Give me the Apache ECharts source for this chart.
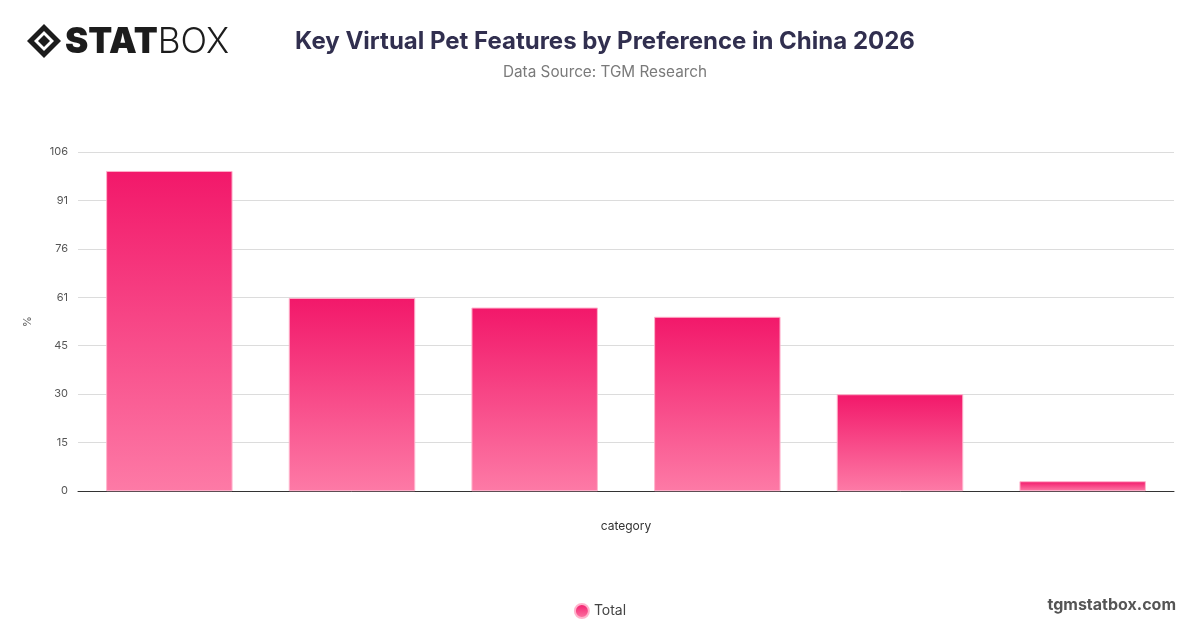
<!DOCTYPE html>
<html>
<head>
<meta charset="utf-8">
<script src="https://cdn.jsdelivr.net/npm/echarts@6/dist/echarts.min.js"></script>
<style>
html,body{margin:0;padding:0;background:#fff;}
#chart{width:1200px;height:628px;}
</style>
</head>
<body>
<div id="chart"></div>
<script>
const categories = ['Feature 1', 'Feature 2', 'Feature 3', 'Feature 4', 'Feature 5', 'Feature 6'];
const totalValues = [100, 60.3, 57.3, 54.4, 30.2, 3];
const seriesName = 'Total';
const yMax = 106;
const ySteps = 7;

const chart = echarts.init(document.getElementById('chart'));
const grad = new echarts.graphic.LinearGradient(0, 0, 0, 1, [
  { offset: 0, color: '#F2186A' },
  { offset: 1, color: '#FD7AA6' }
]);
chart.setOption({
  backgroundColor: '#ffffff',
  title: [
    {
      text: 'Key Virtual Pet Features by Preference in China 2026',
      left: 600, top: 25, textAlign: 'center',
      textStyle: { fontFamily: 'Inter', fontWeight: 'bold', fontSize: 24, color: '#312f4f' }
    },
    {
      text: 'Data Source: TGM Research',
      left: 600, top: 60, textAlign: 'center',
      textStyle: { fontFamily: 'Inter', fontWeight: 'normal', fontSize: 15.3, color: '#7a7a7a' }
    }
  ],
  graphic: [
    {
      type: 'group', left: 27, top: 24,
      children: [
        { type: 'polygon', shape: { points: [[17,0],[34,17],[17,34],[0,17]] }, style: { fill: '#1c1c1c' } },
        { type: 'polygon', shape: { points: [[17,7],[27,17],[17,27],[7,17]] }, style: { fill: '#ffffff' } },
        { type: 'polygon', shape: { points: [[17,11],[23,17],[17,23],[11,17]] }, style: { fill: '#1c1c1c' } },
        { type: 'text', x: 38, y: 0, style: {
            text: '{a|STAT}{b|BOX}',
            rich: {
              a: { fontFamily: 'Inter', fontWeight: 900, fontSize: 35, fill: '#1c1c1c', lineHeight: 36 },
              b: { fontFamily: 'Inter', fontWeight: 300, fontSize: 35, fill: '#1c1c1c', lineHeight: 36 }
            }
        } }
      ]
    },
    {
      type: 'text', right: 24, top: 597,
      style: { text: 'tgmstatbox.com', fontFamily: 'Inter', fontWeight: 'bold', fontSize: 16, fill: '#555555' }
    }
  ],
  legend: {
    data: [seriesName],
    bottom: 4, left: 'center',
    icon: 'circle', itemWidth: 14, itemHeight: 14, itemGap: 10,
    textStyle: { fontFamily: 'Inter', fontSize: 14, color: '#444' }
  },
  grid: { left: 78, right: 26, top: 152, bottom: 137, containLabel: false },
  xAxis: {
    type: 'category', data: categories,
    name: 'category', nameLocation: 'middle', nameGap: 29,
    nameTextStyle: { fontFamily: 'Inter', fontSize: 12, color: '#333' },
    axisLine: { lineStyle: { color: '#333', width: 1 } },
    axisTick: { show: false },
    axisLabel: { show: false }
  },
  yAxis: {
    type: 'value', min: 0, max: yMax, interval: yMax / ySteps,
    name: '%', nameLocation: 'middle', nameGap: 45,
    nameTextStyle: { fontFamily: 'Inter', fontSize: 11, color: '#555' },
    axisLine: { show: false }, axisTick: { show: false },
    axisLabel: { fontFamily: 'Inter', fontSize: 11, color: '#555', margin: 10,
      formatter: v => String(Math.round(v)) },
    splitLine: { lineStyle: { color: '#dcdcdc', width: 1 } }
  },
  series: [{
    name: seriesName, type: 'bar', data: totalValues,
    barCategoryGap: '31%',
    itemStyle: { color: grad, borderColor: '#ffb3cc', borderWidth: 0.6 }
  }]
});
</script>
</body>
</html>
